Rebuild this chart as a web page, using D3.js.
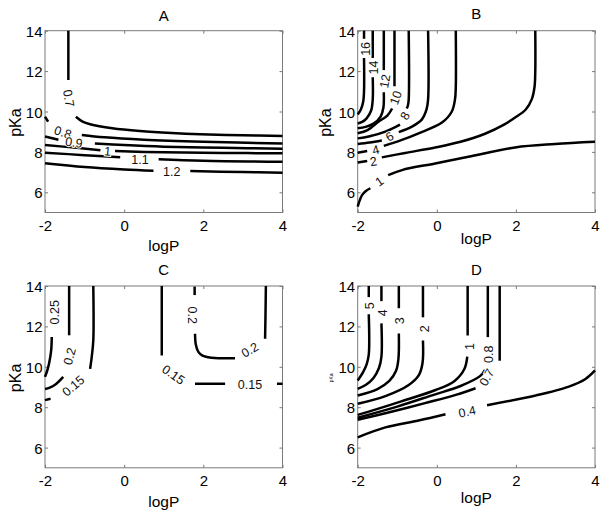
<!DOCTYPE html>
<html><head><meta charset="utf-8">
<script src="https://cdn.jsdelivr.net/npm/d3@7"></script>
<style>
html,body{margin:0;padding:0;background:#fff;}
svg{display:block;font-family:"Liberation Sans",Arial,Helvetica,sans-serif;}
</style></head>
<body><svg id="chart" width="604" height="519"></svg>
<script>
// ---------- data ----------
const xTicks = [-2, 0, 2, 4];
const yTicks = [6, 8, 10, 12, 14];
const xDomain = [-2, 4];
const yDomain = [5, 14];
const titles = ["A", "B", "C", "D"];

// contour segments: [logP, pKa]
const contoursA = [
  {level: "0.7", segs: [[[-1.41,14],[-1.41,11.56]],
    [[-1.22,9.74],[-1.05,9.5],[-0.86,9.37],[-0.3,9.17],[0.4,9.03],[1.2,8.93],[1.92,8.87],[3,8.82],[4,8.79]]]},
  {level: "0.8", segs: [[[-2,9.74],[-1.92,9.5]],
    [[-1.07,8.84],[-0.5,8.72],[0.5,8.6],[2,8.5],[4,8.42]]]},
  {level: "0.9", segs: [[[-2,8.76],[-1.66,8.6]],
    [[-0.74,8.42],[0,8.34],[1,8.26],[2.5,8.2],[4,8.16]]]},
  {level: "1", segs: [[[-2,8.34],[-1.2,8.2],[-0.6,8.08]],
    [[-0.23,8.04],[1,7.98],[2.5,7.95],[4,7.93]]]},
  {level: "1.1", segs: [[[-2,7.96],[-1,7.84],[-0.1,7.73]],
    [[0.87,7.64],[2,7.56],[4,7.51]]]},
  {level: "1.2", segs: [[[-2,7.44],[-1,7.25],[0,7.13],[0.74,7.07]],
    [[1.67,7.05],[3,7.0],[4,6.97]]]}
];
const labelsA = [
  {text: "0.7", x: -1.41, y: 10.65, rot: 80},
  {text: "0.8", x: -1.55, y: 8.95, rot: 18},
  {text: "0.9", x: -1.27, y: 8.45, rot: 8},
  {text: "1",   x: -0.42, y: 8.02, rot: 5},
  {text: "1.1", x: 0.40, y: 7.6, rot: 0},
  {text: "1.2", x: 1.20, y: 7.02, rot: 0}
];

const contoursB = [
  {level: "16", segs: [[[-1.84,14],[-1.84,13.6]],
    [[-1.84,12.65],[-1.84,11.0],[-1.86,10.5],[-1.92,10.1],[-2,9.85]]]},
  {level: "14", segs: [[[-1.62,14],[-1.62,12.65]],
    [[-1.62,11.7],[-1.62,10.6],[-1.66,10.05],[-1.78,9.65],[-1.9,9.47],[-2,9.41]]]},
  {level: "12", segs: [[[-1.34,14],[-1.34,12.05]],
    [[-1.34,10.95],[-1.35,10.2],[-1.42,9.75],[-1.6,9.4],[-1.8,9.24],[-2,9.17]]]},
  {level: "10", segs: [[[-1.07,14],[-1.07,11.25]],
    [[-1.13,10.15],[-1.25,9.8],[-1.47,9.5],[-1.75,9.08],[-2,8.92]]]},
  {level: "8", segs: [[[-0.71,14],[-0.71,10.6],[-0.73,10.3],[-0.76,10.15]],
    [[-0.93,9.35],[-1.3,9.0],[-1.72,8.76],[-2,8.67]]]},
  {level: "6", segs: [[[-0.22,14],[-0.22,10.6],[-0.26,10.1],[-0.38,9.6],[-0.63,9.25],[-0.96,8.98]],
    [[-1.39,8.56],[-1.7,8.46],[-2,8.39]]]},
  {level: "4", segs: [[[-2,7.96],[-1.76,8.04]],
    [[-1.34,8.3],[-0.9,8.58],[-0.46,8.92],[0.13,9.45],[0.38,10.0],[0.46,10.6],[0.48,11.2],[0.48,14]]]},
  {level: "2", segs: [[[-2,7.47],[-1.76,7.55]],
    [[-1.39,7.73],[-0.8,7.95],[-0.04,8.22],[0.6,8.5],[1.22,8.9],[1.7,9.35],[1.98,9.7],[2.25,10.1],[2.4,10.6],[2.47,11.2],[2.49,12],[2.49,14]]]},
  {level: "1", segs: [[[-2,5.29],[-1.95,5.6],[-1.89,5.86],[-1.8,6.05],[-1.68,6.2]],
    [[-1.23,6.85],[-0.88,7.1],[-0.04,7.43],[0.8,7.76],[1.98,8.22],[2.99,8.39],[4,8.5]]]}
];
const labelsB = [
  {text: "16", x: -1.78, y: 13.1, rot: -90},
  {text: "14", x: -1.58, y: 12.18, rot: -90},
  {text: "12", x: -1.30, y: 11.5, rot: -80},
  {text: "10", x: -1.03, y: 10.68, rot: -70},
  {text: "8",  x: -0.80, y: 9.78, rot: -60},
  {text: "6",  x: -1.19, y: 8.75, rot: -30},
  {text: "4",  x: -1.54, y: 8.08, rot: -15},
  {text: "2",  x: -1.60, y: 7.52, rot: -10},
  {text: "1",  x: -1.45, y: 6.52, rot: -35}
];

const contoursC = [
  {level: "0.25", segs: [[[-1.83,11.47],[-1.84,10.9],[-1.87,10.45],[-1.93,9.9],[-2,9.5]]]},
  {level: "0.2", segs: [[[-1.39,14],[-1.39,11.56]],
    [[-1.54,9.5],[-1.72,9.15],[-1.88,8.97],[-2,8.9]]]},
  {level: "0.15", segs: [[[-0.78,14],[-0.78,11.3],[-0.82,10.48],[-0.86,9.9]],
    [[-1.86,8.42],[-2,8.35]]]},
  {level: "0.15", segs: [[[0.95,14],[0.95,10.56]],
    [[1.79,9.16],[2.55,9.16]],
    [[3.86,9.16],[4,9.16]]]},
  {level: "0.2", segs: [[[1.78,13.97],[1.78,13.55]],
    [[1.79,11.64],[1.81,11.1],[1.87,10.75],[1.98,10.55],[2.21,10.45],[2.8,10.42]],
    [[3.56,11.39],[3.57,12.5],[3.58,14]]]}
];
const labelsC = [
  {text: "0.25", x: -1.75, y: 12.7, rot: -90},
  {text: "0.2",  x: -1.37, y: 10.52, rot: -75},
  {text: "0.15", x: -1.28, y: 9.05, rot: -40},
  {text: "0.15", x: 1.24, y: 9.6, rot: 35},
  {text: "0.2",  x: 1.71, y: 12.55, rot: 90},
  {text: "0.2",  x: 3.18, y: 10.82, rot: -30},
  {text: "0.15", x: 3.18, y: 9.1, rot: 0}
];

const contoursD = [
  {level: "5", segs: [[[-1.72,14],[-1.72,13.45]],
    [[-1.72,12.6],[-1.72,10.6],[-1.77,10.15],[-1.86,9.75],[-2,9.32]]]},
  {level: "4", segs: [[[-1.40,14],[-1.40,13.25]],
    [[-1.40,12.15],[-1.40,10.5],[-1.46,9.95],[-1.6,9.45],[-1.8,9.1],[-2,8.91]]]},
  {level: "3", segs: [[[-0.96,14],[-0.96,12.9]],
    [[-0.96,11.65],[-0.97,10.4],[-1.03,9.8],[-1.2,9.3],[-1.5,8.9],[-2,8.58]]]},
  {level: "2", segs: [[[-0.35,14],[-0.35,12.45]],
    [[-0.35,11.3],[-0.36,10.2],[-0.45,9.6],[-0.71,9.1],[-1.3,8.55],[-2,8.17]]]},
  {level: "1", segs: [[[0.78,14],[0.78,11.55]],
    [[0.77,10.5],[0.7,9.9],[0.45,9.3],[-0.03,8.85],[-0.88,8.3],[-1.72,7.78],[-2,7.62]]]},
  {level: "0.8", segs: [[[1.29,14],[1.29,11.47]],
    [[1.22,9.85],[1.1,9.55],[0.6,9.05],[-0.1,8.6],[-1.0,8.03],[-2,7.48]]]},
  {level: "0.7", segs: [[[1.59,14],[1.59,10.3]],
    [[0.98,8.94],[0.5,8.62],[-0.3,8.2],[-1.2,7.75],[-2,7.38]]]},
  {level: "0.4", segs: [[[-2,6.51],[-1.3,7.0],[-0.46,7.34],[0.22,7.65]],
    [[1.27,8.1],[2.5,8.58],[3.34,9.02],[3.76,9.4],[4,9.82]]]}
];
const labelsD = [
  {text: "5",   x: -1.69, y: 13.02, rot: -90},
  {text: "4",   x: -1.35, y: 12.68, rot: -90},
  {text: "3",   x: -0.94, y: 12.28, rot: -90},
  {text: "2",   x: -0.29, y: 11.88, rot: -90},
  {text: "1",   x: 0.85, y: 11.0, rot: -90},
  {text: "0.8", x: 1.32, y: 10.62, rot: -90},
  {text: "0.7", x: 1.27, y: 9.47, rot: -60},
  {text: "0.4", x: 0.77, y: 7.76, rot: -12}
];

// ---------- layout ----------
const panels = [
  {title: titles[0], c: contoursA, l: labelsA, x0: 45, x1: 282.5, y0: 30.7, y1: 212.5,
   titleY: 15, xlabY: 245, ylabX: 15, ylabSize: 16},
  {title: titles[1], c: contoursB, l: labelsB, x0: 357.7, x1: 595, y0: 30.7, y1: 212.5,
   titleY: 13.5, xlabY: 238, ylabX: 325, ylabSize: 16},
  {title: titles[2], c: contoursC, l: labelsC, x0: 45, x1: 282.5, y0: 286, y1: 467.8,
   titleY: 269, xlabY: 501, ylabX: 15, ylabSize: 16},
  {title: titles[3], c: contoursD, l: labelsD, x0: 357.7, x1: 595, y0: 286, y1: 467.8,
   titleY: 269, xlabY: 497, ylabX: 331, ylabSize: 5}
];

const svg = d3.select("#chart");
const boxColor = "#7a7a7a";
const fmt = d => String(d);

panels.forEach(p => {
  const x = d3.scaleLinear().domain(xDomain).range([p.x0, p.x1]);
  const y = d3.scaleLinear().domain(yDomain).range([p.y1, p.y0]);
  const g = svg.append("g");

  g.append("rect").attr("x", p.x0).attr("y", p.y0)
    .attr("width", p.x1 - p.x0).attr("height", p.y1 - p.y0)
    .attr("fill", "#fff").attr("stroke", boxColor).attr("stroke-width", 1);

  const styleAxis = sel => {
    sel.select(".domain").remove();
    sel.selectAll(".tick line").attr("stroke", boxColor);
    sel.selectAll(".tick text").attr("fill", "#000").style("font-size", "15px")
      .style("font-family", "'Liberation Sans',Arial,sans-serif")
      .attr("dy", null).attr("dominant-baseline", "central");
  };
  g.append("g").attr("transform", `translate(0,${p.y1})`)
    .call(d3.axisBottom(x).tickValues(xTicks).tickFormat(fmt).tickSizeInner(-3).tickSizeOuter(0))
    .call(styleAxis)
    .selectAll(".tick text").attr("y", 12.5);
  g.append("g").attr("transform", `translate(0,${p.y0})`)
    .call(d3.axisTop(x).tickValues(xTicks).tickSizeInner(-3).tickSizeOuter(0).tickFormat(""))
    .call(styleAxis);
  g.append("g").attr("transform", `translate(${p.x0},0)`)
    .call(d3.axisLeft(y).tickValues(yTicks).tickFormat(fmt).tickSizeInner(-3).tickSizeOuter(0).tickPadding(2.5))
    .call(styleAxis);
  g.append("g").attr("transform", `translate(${p.x1},0)`)
    .call(d3.axisRight(y).tickValues(yTicks).tickSizeInner(-3).tickSizeOuter(0).tickFormat(""))
    .call(styleAxis);

  const line = d3.line().x(d => x(d[0])).y(d => y(d[1])).curve(d3.curveCatmullRom.alpha(0.5));
  p.c.forEach(c => {
    c.segs.forEach(s => {
      g.append("path").attr("d", line(s)).attr("fill", "none")
        .attr("stroke", "#000").attr("stroke-width", 2.5)
        .attr("stroke-linecap", "butt").attr("stroke-linejoin", "round");
    });
  });

  p.l.forEach(l => {
    g.append("text")
      .attr("transform", `translate(${x(l.x)},${y(l.y)}) rotate(${l.rot})`)
      .attr("text-anchor", "middle").attr("dominant-baseline", "central")
      .style("font-size", "12.5px").attr("fill", "#111")
      .attr("stroke", "#fff").attr("stroke-width", 2).attr("paint-order", "stroke")
      .text(l.text);
  });

  g.append("text").attr("x", (p.x0 + p.x1) / 2).attr("y", p.titleY)
    .attr("text-anchor", "middle").attr("dominant-baseline", "central")
    .style("font-size", "15px").text(p.title);
  g.append("text").attr("x", (p.x0 + p.x1) / 2).attr("y", p.xlabY)
    .attr("text-anchor", "middle").attr("dominant-baseline", "central")
    .style("font-size", "15.5px").text("logP");
  g.append("text").attr("transform", `translate(${p.ylabX},${(p.y0 + p.y1) / 2 + 1}) rotate(-90)`)
    .attr("text-anchor", "middle").attr("dominant-baseline", "central")
    .style("font-size", p.ylabSize + "px").text("pKa");
});
</script></body></html>
